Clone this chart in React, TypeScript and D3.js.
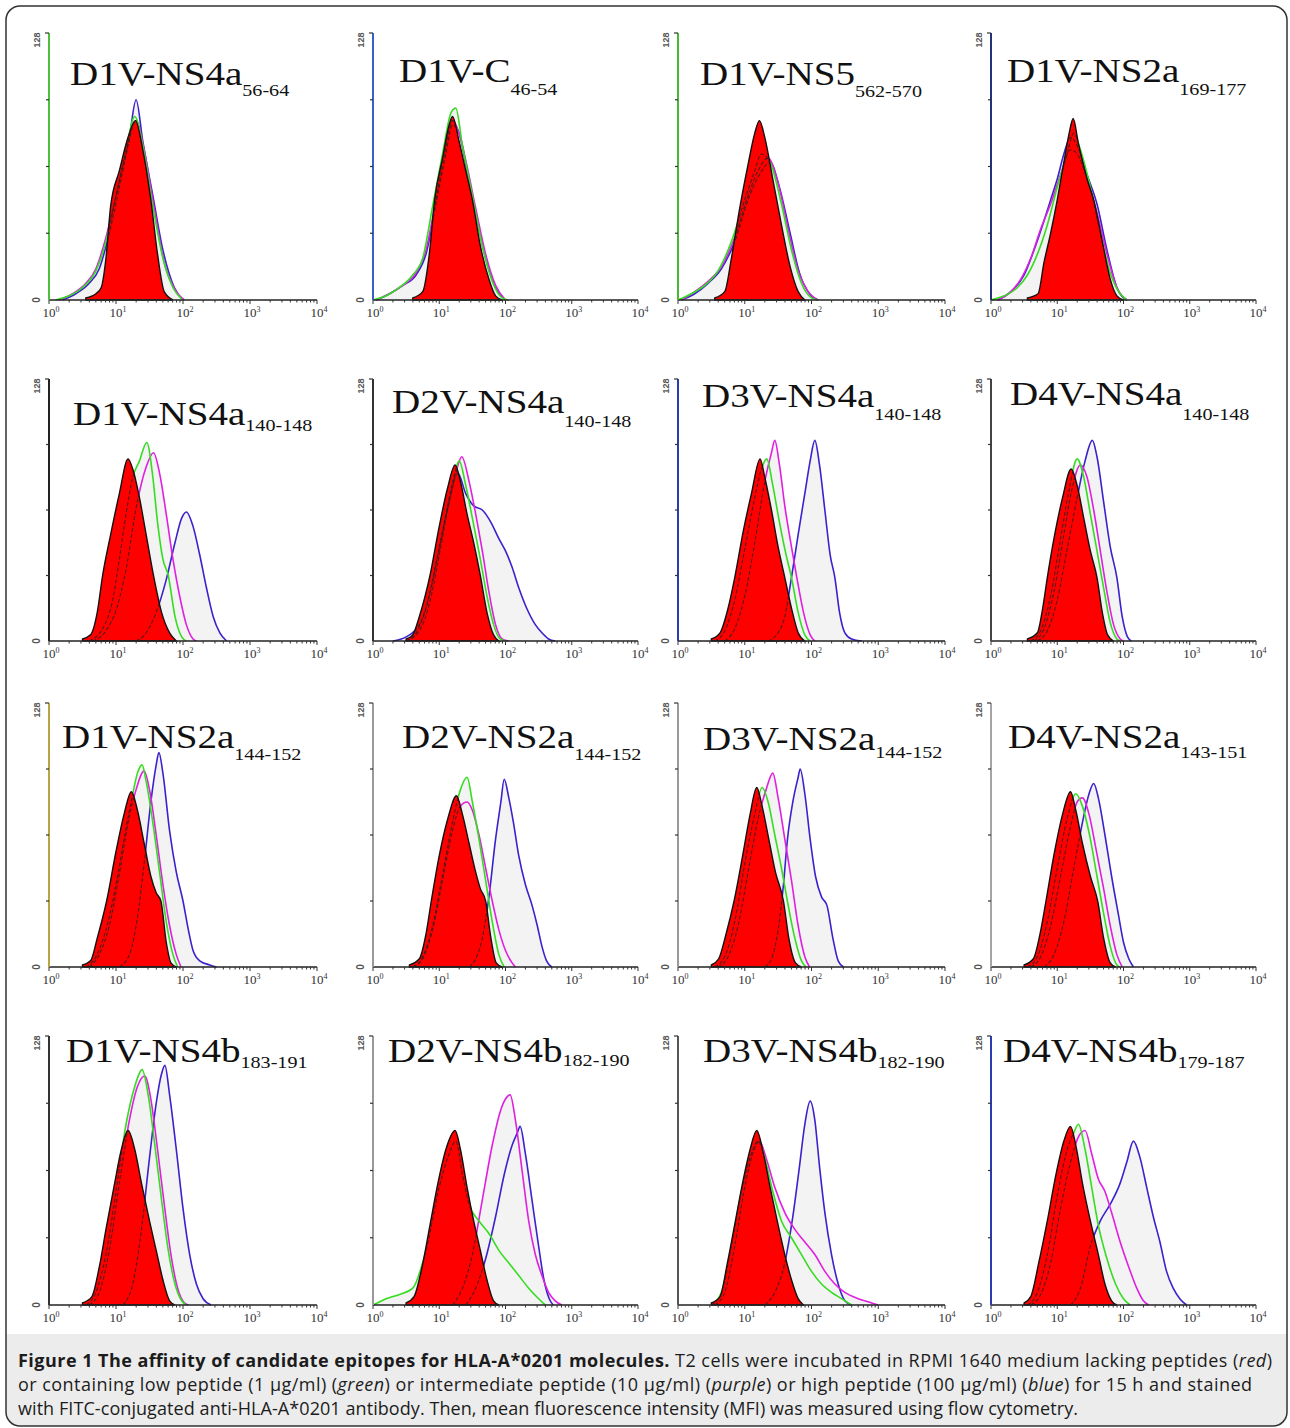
import React from 'react';
import * as d3 from 'd3';

const W = 1290;
const H = 1428;

// ---------- data ----------
const titles = ['D1V-NS4a', 'D1V-C', 'D1V-NS5', 'D1V-NS2a', 'D1V-NS4a', 'D2V-NS4a', 'D3V-NS4a', 'D4V-NS4a',
  'D1V-NS2a', 'D2V-NS2a', 'D3V-NS2a', 'D4V-NS2a', 'D1V-NS4b', 'D2V-NS4b', 'D3V-NS4b', 'D4V-NS4b'];
const subscripts = ['56-64', '46-54', '562-570', '169-177', '140-148', '140-148', '140-148', '140-148',
  '144-152', '144-152', '144-152', '143-151', '183-191', '182-190', '182-190', '179-187'];
const xTickExponents = [0, 1, 2, 3, 4];
const yTickValues = [0, 32, 64, 96, 128];
const yTickLabels = ['0', '128'];

// [log10 fluorescence, count]
const redCurves: number[][][] = [
  [[0.55,1],[0.7,3],[0.78,6],[0.85,20],[0.92,45],[1.05,62],[1.18,78],[1.29,86],[1.4,72],[1.52,48],[1.62,22],[1.72,4],[1.85,0]],
  [[0.6,1],[0.75,4],[0.85,22],[0.93,48],[1.05,68],[1.15,84],[1.2,88],[1.3,76],[1.4,62],[1.5,48],[1.62,26],[1.75,10],[1.85,2],[1.95,0]],
  [[0.55,1],[0.7,4],[0.8,20],[0.93,45],[1.05,65],[1.15,80],[1.22,86],[1.3,78],[1.42,58],[1.55,36],[1.68,16],[1.8,4],[1.9,0]],
  [[0.55,1],[0.71,3],[0.8,18],[0.9,32],[1.0,48],[1.1,66],[1.18,80],[1.24,87],[1.32,75],[1.45,58],[1.55,48],[1.68,28],[1.8,10],[1.9,2],[2.0,0]],
  [[0.5,1],[0.62,3],[0.72,14],[0.8,32],[0.92,52],[1.05,72],[1.18,89],[1.25,84],[1.35,70],[1.45,52],[1.56,32],[1.68,14],[1.8,4],[1.9,0]],
  [[0.5,1],[0.6,3],[0.7,12],[0.86,32],[1.0,56],[1.12,74],[1.24,86],[1.32,78],[1.42,62],[1.52,48],[1.62,32],[1.72,14],[1.82,3],[1.9,0]],
  [[0.5,1],[0.63,4],[0.75,16],[0.85,31],[0.98,54],[1.1,72],[1.23,89],[1.3,80],[1.4,64],[1.5,46],[1.6,31],[1.7,16],[1.8,4],[1.9,0]],
  [[0.55,1],[0.7,4],[0.78,16],[0.85,31],[0.95,50],[1.08,70],[1.21,84],[1.3,76],[1.4,60],[1.5,44],[1.6,31],[1.68,14],[1.76,3],[1.85,0]],
  [[0.5,1],[0.62,3],[0.72,14],[0.86,32],[1.0,56],[1.12,74],[1.23,85],[1.32,76],[1.42,60],[1.52,44],[1.6,36],[1.67,32],[1.75,12],[1.82,2],[1.9,0]],
  [[0.55,1],[0.7,4],[0.8,16],[0.88,32],[1.0,54],[1.13,72],[1.26,83],[1.35,74],[1.45,60],[1.55,46],[1.62,38],[1.7,32],[1.78,14],[1.86,2],[1.95,0]],
  [[0.5,1],[0.61,4],[0.72,16],[0.84,32],[0.98,56],[1.08,74],[1.18,87],[1.26,78],[1.36,62],[1.46,46],[1.58,32],[1.66,14],[1.76,2],[1.85,0]],
  [[0.5,1],[0.64,4],[0.74,16],[0.83,32],[0.96,56],[1.08,74],[1.2,85],[1.28,76],[1.38,60],[1.5,44],[1.61,32],[1.7,14],[1.8,2],[1.88,0]],
  [[0.5,1],[0.64,4],[0.75,18],[0.85,36],[0.98,58],[1.08,74],[1.18,83],[1.28,74],[1.38,58],[1.5,40],[1.6,26],[1.7,12],[1.8,2],[1.88,0]],
  [[0.5,1],[0.62,4],[0.74,18],[0.86,38],[0.98,58],[1.1,74],[1.24,83],[1.32,74],[1.42,56],[1.52,40],[1.62,26],[1.72,12],[1.82,2],[1.9,0]],
  [[0.5,1],[0.63,4],[0.74,20],[0.86,40],[0.98,60],[1.08,74],[1.18,83],[1.28,72],[1.38,56],[1.5,38],[1.6,24],[1.7,12],[1.8,3],[1.88,0]],
  [[0.5,1],[0.6,4],[0.72,20],[0.85,40],[0.98,62],[1.1,78],[1.2,85],[1.28,76],[1.38,58],[1.5,40],[1.62,24],[1.72,10],[1.82,2],[1.9,0]],
];

const greenCurves: number[][][] = [
  [[0.1,0],[0.3,2],[0.5,6],[0.7,14],[0.85,28],[1.0,50],[1.15,72],[1.28,88],[1.4,74],[1.55,45],[1.7,20],[1.85,6],[2.0,0]],
  [[0,0],[0.2,2],[0.4,6],[0.6,12],[0.75,20],[0.9,45],[1.05,70],[1.18,90],[1.25,92],[1.35,74],[1.5,50],[1.65,26],[1.8,9],[1.95,1],[2.05,0]],
  [[0,0],[0.2,3],[0.4,7],[0.6,14],[0.8,28],[1.0,48],[1.15,62],[1.25,70],[1.38,66],[1.55,46],[1.7,24],[1.85,8],[2.0,1],[2.1,0]],
  [[0.0,0],[0.2,2],[0.4,6],[0.55,12],[0.7,22],[0.85,36],[1.0,54],[1.15,70],[1.25,80],[1.35,72],[1.5,54],[1.65,32],[1.8,13],[1.95,3],[2.05,0]],
  [[0.6,0],[0.8,6],[0.95,20],[1.05,40],[1.15,62],[1.25,80],[1.35,88],[1.46,97],[1.55,80],[1.62,58],[1.7,40],[1.78,32],[1.88,12],[1.98,2],[2.05,0]],
  [[0.5,0],[0.65,4],[0.8,16],[0.95,38],[1.1,62],[1.22,80],[1.3,88],[1.4,76],[1.5,60],[1.62,40],[1.72,22],[1.82,8],[1.92,1],[2.0,0]],
  [[0.55,0],[0.7,5],[0.85,20],[1.0,45],[1.15,70],[1.25,84],[1.33,89],[1.42,76],[1.52,58],[1.62,42],[1.7,31],[1.8,14],[1.9,3],[1.98,0]],
  [[0.6,0],[0.75,5],[0.9,22],[1.05,50],[1.18,74],[1.3,89],[1.4,80],[1.5,62],[1.6,44],[1.7,26],[1.8,9],[1.9,1],[1.95,0]],
  [[0.55,0],[0.7,5],[0.85,18],[1.0,40],[1.12,62],[1.25,84],[1.32,94],[1.39,98],[1.45,90],[1.55,70],[1.65,46],[1.75,22],[1.85,6],[1.92,0]],
  [[0.6,0],[0.75,5],[0.9,20],[1.05,45],[1.2,70],[1.32,86],[1.42,92],[1.5,80],[1.6,62],[1.7,42],[1.8,22],[1.9,6],[1.98,0]],
  [[0.55,0],[0.7,5],[0.85,22],[1.0,50],[1.15,74],[1.26,87],[1.35,80],[1.45,64],[1.55,48],[1.65,30],[1.75,14],[1.85,3],[1.92,0]],
  [[0.55,0],[0.7,5],[0.85,22],[1.0,48],[1.15,72],[1.28,84],[1.38,78],[1.5,62],[1.6,44],[1.7,26],[1.8,10],[1.9,1],[1.95,0]],
  [[0.55,0],[0.7,6],[0.85,24],[1.0,54],[1.15,86],[1.28,104],[1.39,112],[1.48,100],[1.58,76],[1.68,50],[1.78,26],[1.88,10],[1.98,2],[2.05,0]],
  [[0.0,0],[0.2,3],[0.4,5],[0.6,8],[0.8,26],[1.0,56],[1.15,72],[1.25,78],[1.35,62],[1.45,48],[1.6,40],[1.75,34],[1.9,26],[2.05,20],[2.2,14],[2.35,8],[2.5,3],[2.6,0]],
  [[0.5,0],[0.65,6],[0.8,28],[0.95,54],[1.1,72],[1.2,78],[1.3,70],[1.42,54],[1.55,40],[1.7,32],[1.85,24],[2.0,16],[2.15,10],[2.3,6],[2.45,3],[2.6,0]],
  [[0.55,0],[0.7,6],[0.85,24],[1.0,52],[1.15,74],[1.25,82],[1.32,86],[1.42,74],[1.52,56],[1.62,38],[1.75,22],[1.88,10],[2.0,3],[2.1,0]],
];

const purpleCurves: number[][][] = [
  [[0.15,0],[0.35,3],[0.55,8],[0.7,15],[0.85,30],[1.0,50],[1.15,70],[1.3,86],[1.42,72],[1.57,44],[1.72,18],[1.88,5],[2.02,0]],
  [[0.05,0],[0.25,3],[0.45,7],[0.65,13],[0.8,24],[0.95,48],[1.08,70],[1.2,86],[1.3,80],[1.42,64],[1.55,44],[1.7,22],[1.85,7],[2.0,0]],
  [[0.05,0],[0.25,4],[0.45,9],[0.65,16],[0.85,30],[1.05,50],[1.2,62],[1.35,68],[1.5,56],[1.65,34],[1.8,14],[1.95,4],[2.1,0]],
  [[0.1,0],[0.3,4],[0.45,10],[0.6,20],[0.75,34],[0.9,46],[1.05,60],[1.2,72],[1.3,70],[1.45,58],[1.6,42],[1.75,22],[1.9,6],[2.05,0]],
  [[0.65,0],[0.85,5],[1.0,15],[1.15,35],[1.3,65],[1.45,85],[1.56,92],[1.65,82],[1.75,62],[1.85,40],[1.95,22],[2.05,8],[2.15,1],[2.2,0]],
  [[0.5,0],[0.7,5],[0.85,18],[1.0,42],[1.15,68],[1.25,82],[1.34,90],[1.45,78],[1.55,62],[1.65,44],[1.75,24],[1.85,8],[1.95,1],[2.05,0]],
  [[0.7,0],[0.85,6],[1.0,22],[1.15,48],[1.3,78],[1.4,92],[1.45,98],[1.52,86],[1.6,66],[1.7,46],[1.78,31],[1.88,14],[1.98,3],[2.05,0]],
  [[0.65,0],[0.8,6],[0.95,24],[1.1,52],[1.22,74],[1.35,86],[1.45,80],[1.55,64],[1.65,44],[1.75,24],[1.85,8],[1.95,1],[2.0,0]],
  [[0.6,0],[0.75,6],[0.9,20],[1.05,45],[1.18,70],[1.3,86],[1.42,95],[1.5,86],[1.6,64],[1.7,40],[1.8,20],[1.9,6],[1.97,0]],
  [[0.6,0],[0.75,4],[0.9,18],[1.05,42],[1.2,66],[1.32,78],[1.42,80],[1.5,76],[1.6,64],[1.7,48],[1.8,32],[1.9,18],[2.0,8],[2.1,2],[2.15,0]],
  [[0.6,0],[0.75,5],[0.9,20],[1.05,46],[1.2,72],[1.32,86],[1.42,94],[1.5,82],[1.6,62],[1.7,42],[1.8,20],[1.9,5],[1.97,0]],
  [[0.6,0],[0.75,5],[0.9,20],[1.05,44],[1.2,68],[1.3,80],[1.38,82],[1.48,74],[1.58,58],[1.7,38],[1.8,20],[1.9,6],[1.98,0]],
  [[0.6,0],[0.75,6],[0.9,26],[1.05,58],[1.2,88],[1.32,104],[1.43,109],[1.52,98],[1.62,74],[1.72,48],[1.82,24],[1.92,8],[2.02,1],[2.08,0]],
  [[1.2,0],[1.35,8],[1.5,24],[1.65,50],[1.8,76],[1.92,92],[2.0,98],[2.07,100],[2.15,88],[2.25,64],[2.35,40],[2.45,24],[2.55,14],[2.65,6],[2.75,2],[2.85,0]],
  [[0.55,0],[0.7,6],[0.85,28],[1.0,56],[1.12,72],[1.22,78],[1.32,70],[1.45,56],[1.6,44],[1.75,36],[1.9,30],[2.05,24],[2.2,16],[2.35,10],[2.5,6],[2.7,3],[2.9,1],[3.0,0]],
  [[0.6,0],[0.75,5],[0.9,20],[1.05,46],[1.2,68],[1.32,80],[1.42,83],[1.52,72],[1.62,60],[1.72,54],[1.82,44],[1.95,30],[2.08,18],[2.2,8],[2.3,2],[2.38,0]],
];

const blueCurves: number[][][] = [
  [[0.2,0],[0.4,3],[0.6,8],[0.75,15],[0.9,32],[1.05,54],[1.2,78],[1.3,96],[1.4,76],[1.55,50],[1.7,24],[1.87,6],[2.0,0]],
  [[0.05,0],[0.25,3],[0.45,7],[0.65,12],[0.8,22],[0.95,46],[1.1,70],[1.2,84],[1.3,80],[1.42,62],[1.55,42],[1.7,20],[1.85,6],[2.0,0]],
  [[0.05,0],[0.25,3],[0.45,8],[0.65,15],[0.85,28],[1.05,48],[1.22,60],[1.38,66],[1.52,54],[1.68,32],[1.82,13],[1.97,3],[2.1,0]],
  [[0.1,0],[0.3,4],[0.5,12],[0.65,24],[0.8,38],[0.9,48],[1.0,58],[1.1,70],[1.2,78],[1.3,74],[1.45,60],[1.6,46],[1.75,24],[1.9,6],[2.05,0]],
  [[1.3,0],[1.45,4],[1.6,14],[1.75,30],[1.88,48],[1.98,60],[2.05,63],[2.15,56],[2.25,42],[2.35,26],[2.45,12],[2.55,4],[2.65,0]],
  [[0.3,0],[0.5,2],[0.7,8],[0.85,22],[1.0,45],[1.15,68],[1.28,82],[1.4,72],[1.52,66],[1.65,64],[1.78,58],[1.9,50],[2.0,44],[2.1,36],[2.2,26],[2.32,16],[2.45,8],[2.55,4],[2.65,1],[2.75,0]],
  [[1.35,0],[1.5,4],[1.6,12],[1.7,31],[1.8,52],[1.9,72],[1.98,88],[2.05,98],[2.12,86],[2.2,64],[2.28,42],[2.35,31],[2.42,14],[2.5,4],[2.6,1],[2.75,0]],
  [[0.7,0],[0.85,5],[1.0,20],[1.15,45],[1.3,70],[1.42,88],[1.53,98],[1.6,90],[1.7,68],[1.8,46],[1.9,31],[1.98,12],[2.06,2],[2.12,0]],
  [[1.05,0],[1.2,6],[1.32,24],[1.42,50],[1.52,80],[1.6,98],[1.64,104],[1.7,94],[1.8,66],[1.9,46],[2.0,32],[2.08,18],[2.15,8],[2.25,3],[2.4,1],[2.5,0]],
  [[1.45,0],[1.55,4],[1.65,14],[1.75,34],[1.85,62],[1.93,80],[1.98,91],[2.05,82],[2.12,70],[2.2,54],[2.3,40],[2.4,30],[2.48,20],[2.55,10],[2.62,3],[2.7,0]],
  [[1.3,0],[1.4,4],[1.5,18],[1.58,40],[1.64,62],[1.72,80],[1.8,92],[1.83,96],[1.9,84],[1.98,62],[2.06,44],[2.15,34],[2.23,30],[2.32,14],[2.4,3],[2.48,0]],
  [[0.8,0],[0.95,6],[1.1,22],[1.25,48],[1.38,70],[1.48,84],[1.55,89],[1.62,82],[1.72,64],[1.82,44],[1.92,26],[2.0,12],[2.08,4],[2.15,0]],
  [[1.1,0],[1.25,10],[1.38,36],[1.5,70],[1.6,96],[1.68,110],[1.73,114],[1.8,100],[1.9,74],[2.0,46],[2.1,24],[2.2,10],[2.3,3],[2.42,0]],
  [[1.4,0],[1.55,8],[1.7,22],[1.85,42],[1.98,62],[2.1,76],[2.18,82],[2.22,85],[2.3,72],[2.4,50],[2.5,28],[2.58,12],[2.66,3],[2.72,0]],
  [[1.3,0],[1.45,6],[1.6,20],[1.72,42],[1.82,66],[1.9,86],[1.98,97],[2.05,88],[2.12,66],[2.2,44],[2.3,24],[2.4,10],[2.5,2],[2.6,0]],
  [[1.2,0],[1.35,8],[1.5,28],[1.65,40],[1.8,48],[1.95,58],[2.05,68],[2.15,78],[2.25,70],[2.35,56],[2.45,42],[2.55,30],[2.65,16],[2.75,8],[2.85,3],[2.95,0]],
];

// ---------- layout ----------
const colLeft = [49, 373, 678, 991];
const colRight = [317, 638, 945, 1256];
const rowTop = [33, 379, 703, 1036];
const rowBase = [300, 641, 967, 1305];
const titleX = [70, 399, 700, 1007, 73, 392, 702, 1010, 62, 402, 703, 1008, 66, 388, 703, 1003];
const titleY = [85, 82, 85, 82, 425, 413, 407, 405, 748, 748, 750, 748, 1062, 1062, 1062, 1062];
const subDy = [11, 13, 12, 13, 6, 14, 13, 15, 12, 12, 8, 10, 6, 4, 6, 6];
const yAxisColors = ['#4cc03c', '#3a5fc8', '#45b836', '#23307a', '#222', '#333', '#2a3cb0', '#444',
  '#b9a444', '#9a9a9a', '#999', '#a5a5a5', '#333', '#999', '#555', '#2a3cb0'];

const RED = '#ff0000';
const GREEN = '#35dd20';
const PURPLE = '#e020e0';
const BLUE = '#3a22cc';

function Panel({ i }: { i: number }) {
  const r = Math.floor(i / 4);
  const c = i % 4;
  const x0 = colLeft[c], x1 = colRight[c], top = rowTop[r], base = rowBase[r];
  const xs = d3.scaleLog().domain([1, 1e4]).range([x0, x1]);
  const ys = d3.scaleLinear().domain([0, 128]).range([base, top]);
  const px = (d: number[]) => xs(Math.pow(10, d[0]));
  const area = d3.area<number[]>().x(px).y0(base).y1(d => ys(d[1])).curve(d3.curveMonotoneX);
  const line = d3.line<number[]>().x(px).y(d => ys(d[1])).curve(d3.curveMonotoneX);
  const others = [
    { data: blueCurves[i], color: BLUE },
    { data: purpleCurves[i], color: PURPLE },
    { data: greenCurves[i], color: GREEN },
  ];
  const redPath = area(redCurves[i]) || '';
  const minorTicks = xs.ticks();
  return (
    <g>
      <defs>
        <clipPath id={`rc${i}`}><path d={redPath} /></clipPath>
      </defs>
      {others.map((o, k) => (
        <path key={`f${k}`} d={area(o.data) || ''} fill="#f3f3f3" stroke="none" />
      ))}
      {others.map((o, k) => (
        <path key={`s${k}`} d={line(o.data) || ''} fill="none" stroke={o.color} strokeWidth={1.6} />
      ))}
      <path d={redPath} fill={RED} stroke="#111" strokeWidth={1.4} />
      <g clipPath={`url(#rc${i})`}>
        {others.map((o, k) => (
          <path key={`d${k}`} d={line(o.data) || ''} fill="none" stroke="#222" strokeOpacity={0.75} strokeWidth={1.1} strokeDasharray="4 2" />
        ))}
      </g>
      {/* x axis */}
      <line x1={x0} x2={x1} y1={base} y2={base} stroke="#222" strokeWidth={1.3} />
      {minorTicks.map((t, k) => {
        const major = Math.abs(Math.log10(t) - Math.round(Math.log10(t))) < 1e-9;
        return <line key={k} x1={xs(t)} x2={xs(t)} y1={base} y2={base + (major ? 4 : 2.5)} stroke="#333" strokeWidth={1} />;
      })}
      {xTickExponents.map(e => (
        <text key={e} x={xs(Math.pow(10, e)) + 2} y={base + 17} fontFamily="Liberation Serif" fontSize={13} fill="#333" textAnchor="middle">
          10<tspan dy={-5} fontSize={8}>{e}</tspan>
        </text>
      ))}
      {/* y axis */}
      <line x1={x0} x2={x0} y1={top} y2={base} stroke={yAxisColors[i]} strokeWidth={2} />
      <line x1={x0 - 4} x2={x0} y1={top} y2={top} stroke="#333" strokeWidth={1.2} />
      {yTickValues.slice(1, -1).map(v => (
        <line key={v} x1={x0 - 3} x2={x0} y1={ys(v)} y2={ys(v)} stroke="#333" strokeWidth={1.2} />
      ))}
      <text transform={`translate(${x0 - 9},${ys(128) + 7}) rotate(-90)`} fontFamily="Liberation Sans" fontWeight="bold" fontSize={9} fill="#555" textAnchor="middle">{yTickLabels[1]}</text>
      <text transform={`translate(${x0 - 9},${ys(0)}) rotate(-90)`} fontFamily="Liberation Sans" fontWeight="bold" fontSize={10} fill="#555" textAnchor="middle">{yTickLabels[0]}</text>
      {/* title */}
      <text transform={`translate(${titleX[i]},${titleY[i]}) scale(1.15,1)`} fontFamily="Liberation Serif" fontSize={34} fill="#111">
        {titles[i]}<tspan dy={subDy[i]} fontSize={17.5}>{subscripts[i]}</tspan>
      </text>
    </g>
  );
}

export default function App() {
  const panels = d3.range(16);
  const cap = { fontFamily: 'Open Sans', fontSize: 18, fill: '#1c1c1c' };
  return (
    <svg width={W} height={H} viewBox={`0 0 ${W} ${H}`} style={{ position: 'absolute', left: 0, top: 0, background: '#fff' }}>
      <rect x={0} y={0} width={W} height={H} fill="#fff" />
      <path d={`M6,1334 L6,1412 Q6,1426 20,1426 L1273,1426 Q1287,1426 1287,1412 L1287,1334 Z`} fill="#ececec" />
      <rect x={6} y={6} width={1281} height={1420} rx={14} ry={14} fill="none" stroke="#333" strokeWidth={1.5} />
      {panels.map(i => <Panel key={i} i={i} />)}
      <text x={18} y={1367} {...cap} textLength={1254} lengthAdjust="spacing">
        <tspan fontWeight="bold">Figure 1 The affinity of candidate epitopes for HLA-A*0201 molecules.</tspan>
        <tspan> T2 cells were incubated in RPMI 1640 medium lacking peptides (</tspan>
        <tspan fontStyle="italic">red</tspan>
        <tspan>)</tspan>
      </text>
      <text x={18} y={1391} {...cap} textLength={1234} lengthAdjust="spacing">
        <tspan>or containing low peptide (1 μg/ml) (</tspan>
        <tspan fontStyle="italic">green</tspan>
        <tspan>) or intermediate peptide (10 μg/ml) (</tspan>
        <tspan fontStyle="italic">purple</tspan>
        <tspan>) or high peptide (100 μg/ml) (</tspan>
        <tspan fontStyle="italic">blue</tspan>
        <tspan>) for 15 h and stained</tspan>
      </text>
      <text x={18} y={1415} {...cap} textLength={1060} lengthAdjust="spacing">
        with FITC-conjugated anti-HLA-A*0201 antibody. Then, mean fluorescence intensity (MFI) was measured using flow cytometry.
      </text>
    </svg>
  );
}
